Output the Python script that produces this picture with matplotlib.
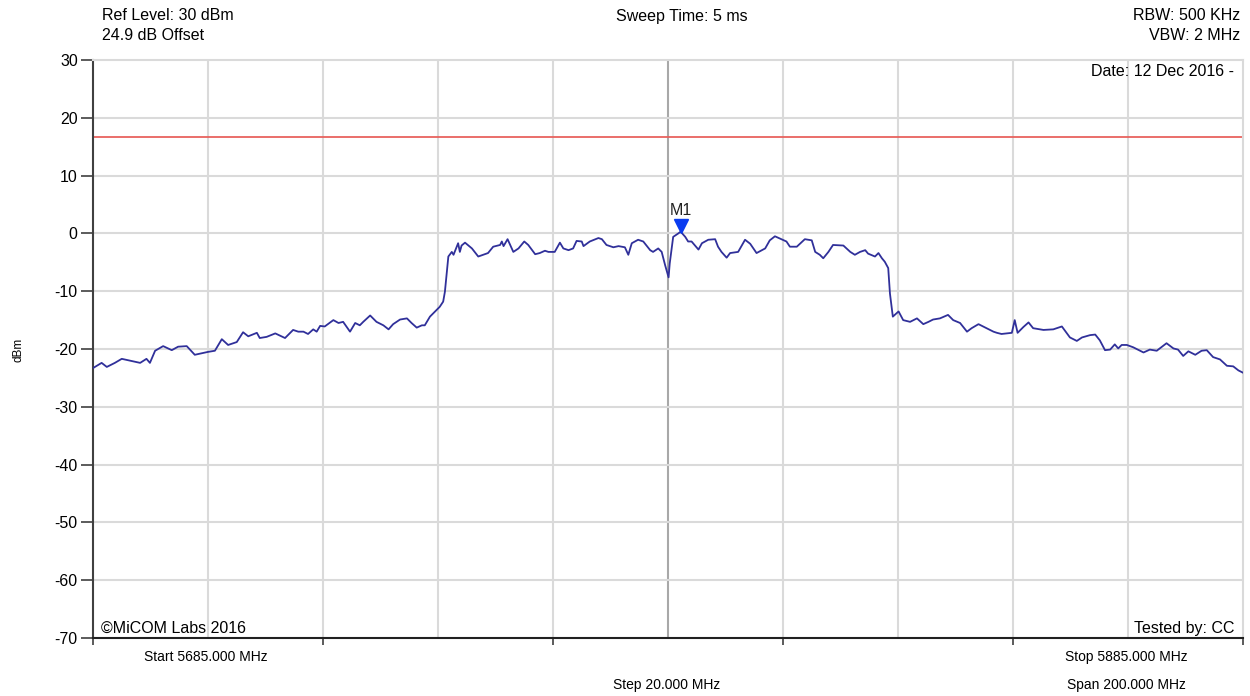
import matplotlib
matplotlib.use("Agg")
import matplotlib.pyplot as plt
import numpy as np

plt.rcParams['font.family'] = ['Liberation Sans', 'DejaVu Sans']

# trace (MHz, dBm)
freq_mhz = [
    5685.0, 5686.5, 5687.4, 5688.8, 5690.0, 5692.3, 5693.2, 5694.3, 5694.9, 5695.8,
    5697.2, 5698.7, 5699.8, 5701.3, 5702.7, 5705.0, 5706.2, 5707.4, 5708.5, 5710.0,
    5711.1, 5712.0, 5713.5, 5714.0, 5715.2, 5716.7, 5718.4, 5719.8, 5720.7, 5721.6,
    5722.4, 5723.3, 5723.9, 5724.5, 5725.3, 5726.8, 5727.7, 5728.5, 5729.7, 5730.6,
    5731.4, 5732.0, 5733.2, 5734.3, 5735.5, 5736.4, 5737.2, 5738.4, 5739.6, 5740.4,
    5741.3, 5742.2, 5742.7, 5743.6, 5744.5, 5745.3, 5745.9, 5746.2, 5746.8, 5747.4,
    5747.7, 5748.5, 5748.8, 5749.1, 5749.7, 5750.9, 5752.0, 5753.7, 5754.6, 5755.8,
    5756.1, 5756.4, 5757.1, 5758.1, 5759.0, 5760.0, 5760.7, 5761.9, 5762.7, 5763.6,
    5764.2, 5765.3, 5766.2, 5766.8, 5767.7, 5768.5, 5769.1, 5770.0, 5770.3, 5771.4,
    5772.9, 5773.5, 5774.3, 5775.5, 5776.4, 5777.5, 5778.1, 5778.7, 5779.8, 5780.7,
    5781.9, 5782.4, 5783.3, 5783.9, 5784.5, 5785.1, 5785.3, 5785.9, 5786.8, 5787.2,
    5788.0, 5788.5, 5789.1, 5790.3, 5790.9, 5792.0, 5793.2, 5793.7, 5794.3, 5795.2,
    5795.8, 5797.2, 5798.4, 5799.3, 5800.4, 5801.9, 5802.7, 5803.6, 5804.5, 5805.6,
    5806.2, 5807.4, 5808.8, 5810.0, 5810.6, 5811.4, 5812.0, 5812.9, 5813.7, 5815.5,
    5816.7, 5817.5, 5818.4, 5819.3, 5819.8, 5821.0, 5821.6, 5822.2, 5822.7, 5823.3,
    5823.6, 5824.1, 5825.1, 5825.9, 5827.1, 5828.3, 5829.4, 5830.3, 5831.1, 5832.3,
    5833.7, 5834.6, 5835.8, 5837.0, 5837.8, 5839.0, 5840.4, 5841.6, 5842.2, 5843.0,
    5844.8, 5845.3, 5845.8, 5846.8, 5847.7, 5848.5, 5850.3, 5852.0, 5853.5, 5854.9,
    5856.1, 5857.0, 5858.4, 5859.3, 5860.1, 5861.0, 5861.9, 5862.7, 5863.3, 5863.9,
    5864.8, 5865.9, 5867.7, 5868.8, 5870.0, 5871.7, 5872.9, 5873.7, 5874.6, 5875.5,
    5876.7, 5877.8, 5878.7, 5879.8, 5881.0, 5882.2, 5883.3, 5884.2, 5885.0,
]
level_dbm = [
    -23.3, -22.4, -23.1, -22.4, -21.7, -22.2, -22.4, -21.7, -22.4, -20.3,
    -19.5, -20.2, -19.6, -19.5, -21.0, -20.5, -20.3, -18.3, -19.3, -18.8,
    -17.1, -17.8, -17.2, -18.1, -17.9, -17.3, -18.1, -16.7, -17.0, -17.0,
    -17.4, -16.6, -17.0, -16.0, -16.1, -15.0, -15.5, -15.3, -17.0, -15.5,
    -15.9, -15.3, -14.2, -15.3, -15.9, -16.6, -15.7, -14.9, -14.7, -15.5,
    -16.3, -15.9, -15.9, -14.4, -13.5, -12.7, -11.8, -10.1, -4.0, -3.2,
    -3.7, -1.7, -3.2, -2.1, -1.6, -2.6, -4.0, -3.4, -2.3, -2.0,
    -1.4, -2.2, -1.0, -3.2, -2.6, -1.4, -2.0, -3.6, -3.4, -3.0,
    -3.2, -3.2, -1.6, -2.6, -2.9, -2.6, -1.3, -1.4, -2.2, -1.4,
    -0.8, -1.0, -2.0, -2.4, -2.2, -2.4, -3.7, -1.7, -1.1, -1.4,
    -2.9, -3.2, -2.6, -3.2, -5.5, -7.6, -5.2, -0.6, 0.0, 0.3,
    -0.6, -1.4, -1.4, -2.8, -1.7, -1.1, -1.0, -2.3, -3.2, -4.2,
    -3.4, -3.2, -1.1, -1.8, -3.4, -2.6, -1.2, -0.5, -0.9, -1.4,
    -2.3, -2.3, -1.0, -1.2, -3.2, -3.7, -4.3, -3.2, -2.0, -2.1,
    -3.2, -3.7, -3.2, -2.9, -3.5, -4.0, -3.4, -4.3, -4.9, -6.0,
    -10.4, -14.4, -13.5, -15.0, -15.3, -14.7, -15.7, -15.3, -14.9, -14.7,
    -14.1, -15.0, -15.5, -17.0, -16.4, -15.7, -16.4, -17.0, -17.2, -17.4,
    -17.2, -15.0, -17.2, -16.2, -15.4, -16.4, -16.7, -16.6, -16.1, -18.0,
    -18.6, -18.0, -17.6, -17.5, -18.5, -20.2, -20.1, -19.2, -19.9, -19.3,
    -19.3, -19.7, -20.6, -20.1, -20.3, -19.0, -19.9, -20.1, -21.2, -20.4,
    -21.0, -20.3, -20.2, -21.4, -21.8, -22.9, -23.0, -23.7, -24.1,
]

start_mhz = 5685.0
stop_mhz = 5885.0
center_mhz = 5785.0
limit_dbm = 16.7
marker_mhz = 5787.2
marker_dbm = 0.3

fig = plt.figure(figsize=(12.5, 6.96), dpi=100)
ax = fig.add_axes([0.0744, 0.0833, 0.92, 0.8305])

ax.set_xlim(start_mhz, stop_mhz)
ax.set_ylim(-70, 30)

# grid
for f in np.arange(start_mhz + 20, stop_mhz, 20):
    col = '#a8a8a8' if f == center_mhz else '#dadada'
    ax.axvline(f, color=col, lw=1.5, zorder=1)
for v in range(-60, 30, 10):
    ax.axhline(v, color='#dadada', lw=1.5, zorder=1)

ax.axhline(limit_dbm, color='#e8625e', lw=1.3, zorder=2)
ax.plot(freq_mhz, level_dbm, color='#30309a', lw=1.3, zorder=3)

ax.plot([marker_mhz], [marker_dbm + 1.0], marker='v', color='#0a3cf0',
        markersize=10, zorder=4, clip_on=False)
ax.text(marker_mhz, marker_dbm + 2.4, 'M1', ha='center', va='bottom',
        fontsize=11.5, color='#222222')

for side in ['top', 'right']:
    ax.spines[side].set_color('#dadada')
    ax.spines[side].set_linewidth(1.5)
ax.spines['left'].set_color('#404040')
ax.spines['left'].set_linewidth(1.5)
ax.spines['bottom'].set_color('#202020')
ax.spines['bottom'].set_linewidth(1.5)

ax.set_yticks(range(-70, 31, 10))
ax.set_yticklabels([str(v) for v in range(-70, 31, 10)], fontsize=11.5)
ax.tick_params(axis='y', length=9, width=1.2, color='#404040', pad=2)
ax.set_xticks(np.arange(start_mhz, stop_mhz + 1, 40))
ax.set_xticklabels([])
ax.tick_params(axis='x', length=5, width=1.2, color='#404040')

fig.text(18 / 1250, 1 - 350 / 696, 'dBm', fontsize=8.5, rotation=90,
         va='center', ha='center')

fs = 11.5
fig.text(102 / 1250, 1 - 16 / 696, 'Ref Level: 30 dBm', fontsize=fs, va='center', ha='left')
fig.text(102 / 1250, 1 - 36 / 696, '24.9 dB Offset', fontsize=fs, va='center', ha='left')
fig.text(682 / 1250, 1 - 17 / 696, 'Sweep Time: 5 ms', fontsize=fs, va='center', ha='center')
fig.text(1240 / 1250, 1 - 16 / 696, 'RBW: 500 KHz', fontsize=fs, va='center', ha='right')
fig.text(1240 / 1250, 1 - 36 / 696, 'VBW: 2 MHz', fontsize=fs, va='center', ha='right')
fig.text(1234 / 1250, 1 - 72 / 696, 'Date: 12 Dec 2016 -', fontsize=fs, va='center', ha='right')
fig.text(101 / 1250, 1 - 628 / 696, '\u00a9MiCOM Labs 2016', fontsize=fs, va='center', ha='left')
fig.text(1234 / 1250, 1 - 628 / 696, 'Tested by: CC', fontsize=fs, va='center', ha='right')

fs2 = 10
fig.text(206 / 1250, 1 - 657 / 696, 'Start 5685.000 MHz', fontsize=fs2, va='center', ha='center')
fig.text(1126 / 1250, 1 - 657 / 696, 'Stop 5885.000 MHz', fontsize=fs2, va='center', ha='center')
fig.text(667 / 1250, 1 - 685 / 696, 'Step 20.000 MHz', fontsize=fs2, va='center', ha='center')
fig.text(1126 / 1250, 1 - 685 / 696, 'Span 200.000 MHz', fontsize=fs2, va='center', ha='center')

fig.savefig('out.png', dpi=100, facecolor='white')
